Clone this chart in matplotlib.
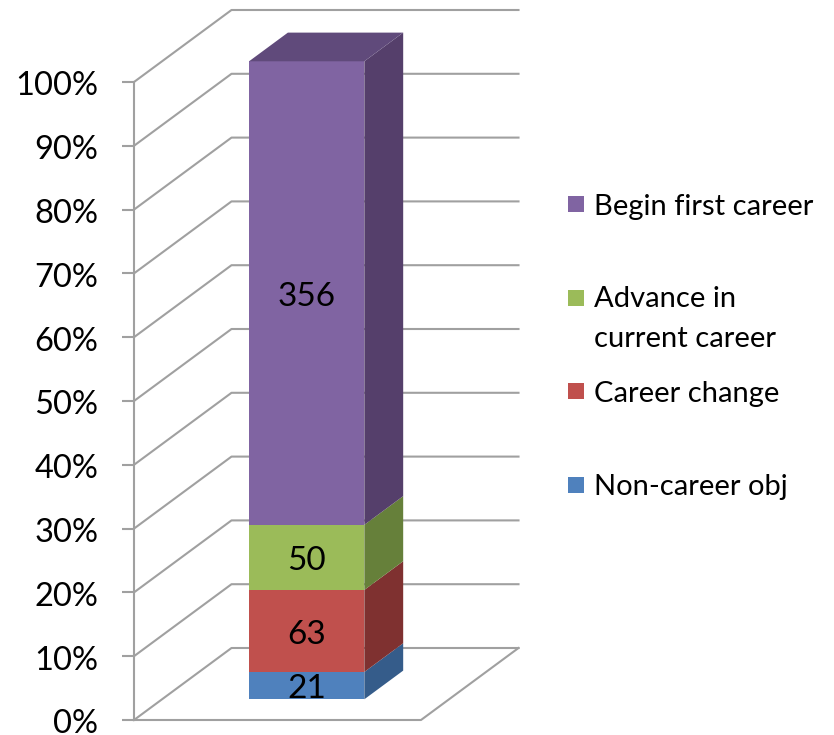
import matplotlib
matplotlib.use("Agg")
import matplotlib.pyplot as plt
from matplotlib.patches import Polygon
from matplotlib.transforms import ScaledTranslation
import numpy as np

# stacked counts, bottom to top
series_names = ['Non-career obj', 'Career change', 'Advance in\ncurrent career', 'Begin first career']
series_values = [21, 63, 50, 356]
front_colors = ['#4f81bd', '#c0504d', '#9bbb59', '#8064a2']
side_colors = ['#355c8a', '#7f3130', '#66803a', '#553f6b']
top_color = '#604a7b'
tick_values = list(range(0, 101, 10))
tick_labels = [f'{v}%' for v in tick_values]

W, H = 834, 735
GRID = '#a0a0a0'
FONT = 'Lato'

# one unit of depth moves right 97.5 px and up 72 px
PCT_PX = 6.38
DX = 97.5
DPCT = 72 / PCT_PX


def project(x, pct, d):
    return (x + DX * d, pct + DPCT * d)


fig = plt.figure(figsize=(W / 100, H / 100), dpi=100)
ax = fig.add_axes([134 / W, 15 / H, 700 / W, 638 / H])
ax.set_xlim(134, 834)
ax.set_ylim(0, 100)
ax.patch.set_visible(False)
for s in ['top', 'right', 'bottom']:
    ax.spines[s].set_visible(False)
ax.spines['left'].set_color(GRID)
ax.spines['left'].set_linewidth(1.5)
ax.set_xticks([])
ax.set_yticks(tick_values)
ax.set_yticklabels(tick_labels, fontsize=23.5, family=FONT, color='black')
ax.tick_params(axis='y', length=8.6, width=1.5, color=GRID, pad=17)
for lab in ax.get_yticklabels():
    lab.set_transform(lab.get_transform() + ScaledTranslation(0, -1 / 72, fig.dpi_scale_trans))

# walls
for v in tick_values:
    xs, ys = zip(project(134, v, 0), project(134, v, 1), project(421, v, 1))
    ax.plot(xs, ys, color=GRID, lw=1.5, clip_on=False, zorder=1)
# floor
floor = [project(134, 0, 0), project(421, 0, 0), project(421, 0, 1)]
ax.plot(*zip(*floor), color=GRID, lw=1.5, clip_on=False, zorder=1)

# bar
x0, x1 = 221, 336.3
d0, d1 = 0.2875, 0.686
pcts = np.cumsum([0] + series_values) / sum(series_values) * 100
for i, name in enumerate(series_names):
    lo, hi = pcts[i], pcts[i + 1]
    front = [project(x0, lo, d0), project(x1, lo, d0), project(x1, hi, d0), project(x0, hi, d0)]
    side = [project(x1, lo, d0), project(x1, lo, d1), project(x1, hi, d1), project(x1, hi, d0)]
    ax.add_patch(Polygon(front, closed=True, fc=front_colors[i], ec='none', clip_on=False, zorder=3))
    ax.add_patch(Polygon(side, closed=True, fc=side_colors[i], ec='none', clip_on=False, zorder=3))
    cx, cy = project((x0 + x1) / 2, (lo + hi) / 2, d0)
    ax.text(cx, cy - 0.6, str(series_values[i]), ha='center', va='center',
            fontsize=24, family=FONT, color='black', zorder=5)
top = [project(x0, 100, d0), project(x1, 100, d0), project(x1, 100, d1), project(x0, 100, d1)]
ax.add_patch(Polygon(top, closed=True, fc=top_color, ec='none', clip_on=False, zorder=3))

# legend
legend_y = [485, 391, 298, 204]
text_y = [487, 394, 319, 207]
for i, name in enumerate(series_names):
    fig.patches.append(plt.Rectangle((568 / W, 1 - (legend_y[i] + 8) / H), 16 / W, 16 / H,
                                     transform=fig.transFigure, fc=front_colors[i], ec='none'))
    fig.text(594 / W, 1 - text_y[i] / H, name, ha='left', va='center', fontsize=21,
             family=FONT, color='black', linespacing=1.62)

fig.savefig('out.png', dpi=100)
